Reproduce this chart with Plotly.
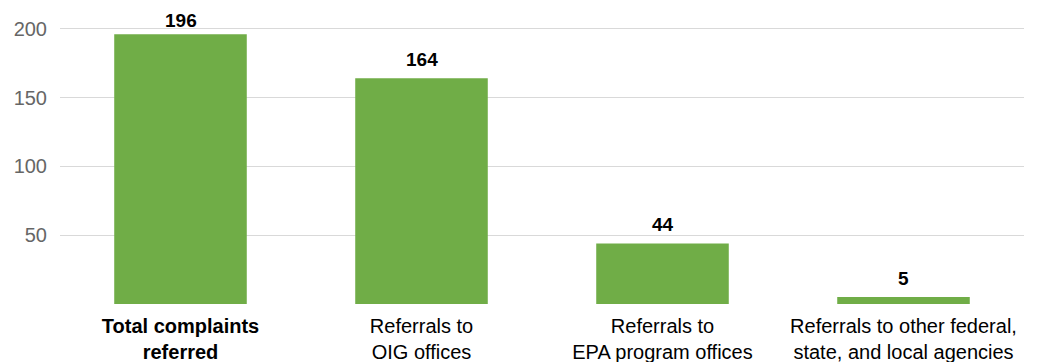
import plotly.graph_objects as go

categories = [
    "<b>Total complaints<br>referred</b>",
    "Referrals to<br>OIG offices",
    "Referrals to<br>EPA program offices",
    "Referrals to other federal,<br>state, and local agencies",
]
values = [196, 164, 44, 5]
tick_vals = [0, 50, 100, 150, 200]
tick_text = ["", "50", "100", "150", "200"]

Y_MAX = 210
fig = go.Figure(
    go.Bar(
        x=categories,
        y=values,
        marker=dict(color="#70AD47", line=dict(width=0)),
        width=0.55,
        cliponaxis=False,
    )
)

for c, v in zip(categories, values):
    # labels near the top of the axis get less lift so they stay on the page
    shift = 6 if v < 0.9 * Y_MAX else 1
    fig.add_annotation(
        x=c,
        y=v,
        text=f"<b>{v}</b>",
        showarrow=False,
        yanchor="bottom",
        yshift=shift,
        font=dict(family="Liberation Sans, Arial, sans-serif", size=19, color="#000000"),
    )

# the page adds an 8px body margin, so the figure is sized to fit the window
fig.update_layout(
    width=1029,
    height=354,
    margin=dict(l=52, r=13, t=7, b=58, autoexpand=False),
    paper_bgcolor="white",
    plot_bgcolor="white",
    showlegend=False,
    font=dict(family="Liberation Sans, Arial, sans-serif"),
    bargap=0.45,
)
fig.update_xaxes(
    tickfont=dict(size=20, color="#000000"),
    showgrid=False,
    showline=False,
    ticks="",
    automargin=False,
    ticklabelstandoff=8,
)
fig.update_yaxes(
    range=[0, Y_MAX],
    tickvals=tick_vals,
    ticktext=tick_text,
    tickfont=dict(size=20, color="#666666"),
    showgrid=True,
    gridcolor="#d9d9d9",
    gridwidth=1,
    zeroline=False,
    showline=False,
    ticks="",
    automargin=False,
    ticklabelstandoff=12,
)

fig.write_html("out.html")
